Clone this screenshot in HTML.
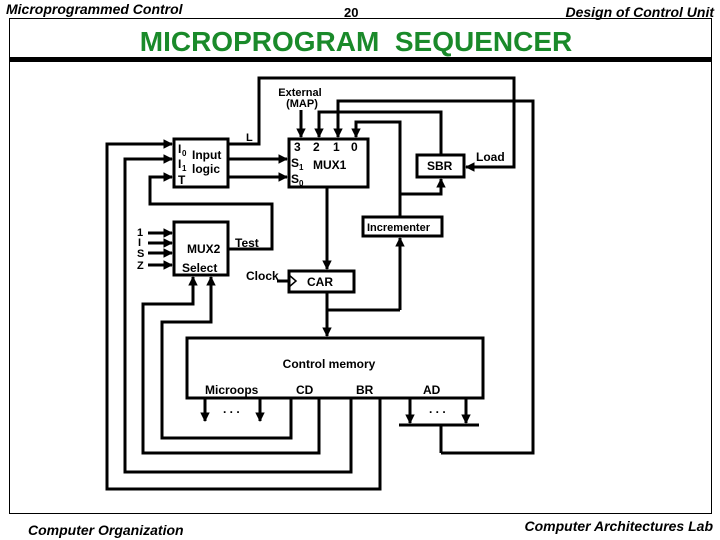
<!DOCTYPE html>
<html><head><meta charset="utf-8"><style>
html,body{margin:0;padding:0;background:#fff;}
svg{display:block;}
text{font-family:"Liberation Sans",Arial,sans-serif;font-weight:bold;fill:#000;}
</style></head><body>
<svg width="720" height="540" viewBox="0 0 720 540" xmlns="http://www.w3.org/2000/svg">
<defs>
<marker id="a" viewBox="0 0 10 10" refX="9" refY="5" markerWidth="3.2" markerHeight="3.2" orient="auto" markerUnits="strokeWidth"><path d="M0,0 L10,5 L0,10 z" fill="#000"/></marker>
</defs>
<!-- header -->
<text x="6" y="14" font-size="14" font-style="italic">Microprogrammed Control</text>
<text x="344" y="17" font-size="13">20</text>
<text x="714" y="17" font-size="14" font-style="italic" text-anchor="end">Design of Control Unit</text>
<rect x="9.5" y="18.5" width="702" height="495" fill="none" stroke="#000" stroke-width="1"/>
<rect x="9" y="57" width="703" height="5" fill="#000"/>
<text x="356" y="51" font-size="28" text-anchor="middle" style="fill:#1a8a2a" xml:space="preserve">MICROPROGRAM  SEQUENCER</text>
<!-- footer -->
<text x="28" y="535" font-size="14" font-style="italic" font-weight="normal">Computer Organization</text>
<text x="713" y="531" font-size="14" font-style="italic" text-anchor="end" font-weight="normal">Computer Architectures Lab</text>

<g fill="none" stroke="#000" stroke-width="3">
<rect x="174" y="139" width="54" height="48"/>
<rect x="289" y="139" width="79" height="48"/>
<rect x="417" y="155" width="47" height="22"/>
<rect x="363" y="217" width="79" height="19"/>
<rect x="174" y="222" width="54" height="53"/>
<rect x="289" y="271" width="65" height="21"/>
<rect x="187" y="338" width="296" height="60"/>
<path d="M289,275 L296,281 L289,287" stroke-width="1.5"/>
<path d="M301,110 V137" marker-end="url(#a)"/>
<path d="M441,155 V112 H319 V137" marker-end="url(#a)"/>
<path d="M441,453 V424 M441,453 H533 V101 H338 V137" marker-end="url(#a)"/>
<path d="M400,217 V122 H356 V137" marker-end="url(#a)"/>
<path d="M400,194 H441 V179" marker-end="url(#a)"/>
<path d="M400,310 V238" marker-end="url(#a)"/>
<path d="M228,144 H259 V78 H514 V167 H466" marker-end="url(#a)"/>
<path d="M228,159 H287" marker-end="url(#a)"/>
<path d="M228,177 H287" marker-end="url(#a)"/>
<path d="M327,187 V269" marker-end="url(#a)"/>
<path d="M327,292 V336" marker-end="url(#a)"/>
<path d="M327,310 H400"/>
<path d="M228,249 H272 V204 H150 V177 H172" marker-end="url(#a)"/>
<path d="M148,233 H172" marker-end="url(#a)"/>
<path d="M148,243 H172" marker-end="url(#a)"/>
<path d="M148,253 H172" marker-end="url(#a)"/>
<path d="M148,265 H172" marker-end="url(#a)"/>
<path d="M277,281 H289"/>
<path d="M380,398 V489 H107 V144 H172" marker-end="url(#a)"/>
<path d="M351,398 V472 H125 V159 H172" marker-end="url(#a)"/>
<path d="M291,398 V438 H162 V322 H211 V277" marker-end="url(#a)"/>
<path d="M319,398 V453 H143 V304 H193 V277" marker-end="url(#a)"/>
<path d="M205,398 V421" marker-end="url(#a)"/>
<path d="M260,398 V421" marker-end="url(#a)"/>
<path d="M410,398 V423" marker-end="url(#a)"/>
<path d="M466,398 V423" marker-end="url(#a)"/>
<path d="M399,425 H479"/>
</g>

<g font-size="12">
<text x="300" y="96" text-anchor="middle" font-weight="normal" font-size="11">External</text>
<text x="302" y="107" text-anchor="middle" font-weight="normal" font-size="11">(MAP)</text>
<text x="246" y="141" font-weight="normal" font-size="11">L</text>
<text x="178" y="153" font-weight="normal">I</text><text x="182" y="156" font-size="8" font-weight="normal">0</text>
<text x="192" y="159" font-weight="normal">Input</text>
<text x="178" y="168" font-weight="normal">I</text><text x="182" y="171" font-size="8" font-weight="normal">1</text>
<text x="192" y="173" font-weight="normal">logic</text>
<text x="178" y="184" font-weight="normal">T</text>
<text x="294" y="151" font-weight="normal">3</text>
<text x="313" y="151" font-weight="normal">2</text>
<text x="333" y="151" font-weight="normal">1</text>
<text x="351" y="151" font-weight="normal">0</text>
<text x="291" y="167" font-weight="normal">S</text><text x="299" y="170" font-size="8" font-weight="normal">1</text>
<text x="313" y="169" font-weight="normal">MUX1</text>
<text x="291" y="183" font-weight="normal">S</text><text x="299" y="186" font-size="8" font-weight="normal">0</text>
<text x="427" y="170" font-weight="normal">SBR</text>
<text x="476" y="161" font-weight="normal">Load</text>
<text x="367" y="231" font-weight="normal" font-size="11">Incrementer</text>
<text x="137" y="236" font-weight="normal" font-size="11">1</text>
<text x="138" y="246" font-weight="normal" font-size="11">I</text>
<text x="137" y="257" font-weight="normal" font-size="11">S</text>
<text x="137" y="269" font-weight="normal" font-size="11">Z</text>
<text x="187" y="253" font-weight="normal">MUX2</text>
<text x="182" y="272" font-weight="normal">Select</text>
<text x="235" y="247" font-weight="normal">Test</text>
<text x="246" y="280" font-weight="normal">Clock</text>
<text x="307" y="286" font-weight="normal">CAR</text>
<text x="329" y="368" text-anchor="middle" font-weight="normal">Control memory</text>
<text x="205" y="394" font-weight="normal">Microops</text>
<text x="296" y="394" font-weight="normal">CD</text>
<text x="356" y="394" font-weight="normal">BR</text>
<text x="423" y="394" font-weight="normal">AD</text>
<text x="223" y="413" font-weight="normal">. . .</text>
<text x="429" y="413" font-weight="normal">. . .</text>
</g>
</svg>
</body></html>
